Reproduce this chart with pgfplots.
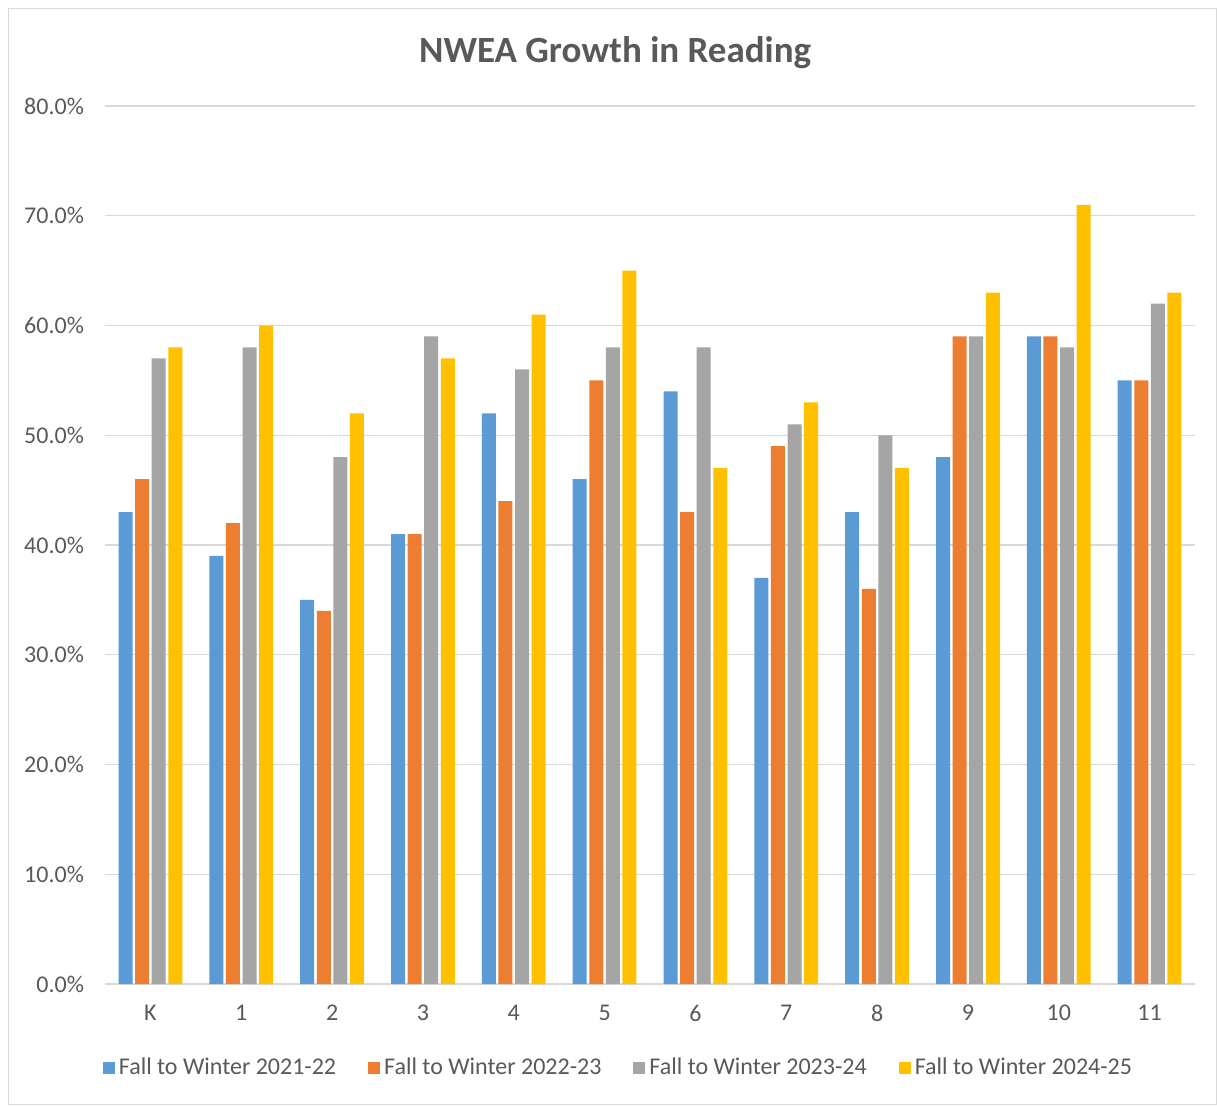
\documentclass[border=0pt]{standalone}
\usepackage{fontspec}
\setmainfont{Carlito}
\usepackage{pgfplots}
\pgfplotsset{compat=1.18}

\definecolor{sblue}{HTML}{5B9BD5}
\definecolor{sorange}{HTML}{ED7D31}
\definecolor{sgray}{HTML}{A5A5A5}
\definecolor{sgold}{HTML}{FFC000}
\definecolor{gridgray}{HTML}{D9D9D9}
\definecolor{txtgray}{HTML}{595959}

\begin{document}
\begin{tikzpicture}
  % whole canvas and chart frame
  \path (-52.5pt,-60.5pt) rectangle (556pt,492pt);
  \draw[color=gridgray] (-48.5pt,-60pt) rectangle (555.5pt,488pt);
  \begin{axis}[
      at={(0,0)}, anchor=south west,
      scale only axis,
      width=545pt, height=439pt,
      ybar=1.3pt, bar width=7pt,
      xmin=-0.5, xmax=11.5,
      ymin=0, ymax=80,
      xtick={0,...,11},
      xticklabels={K,1,2,3,4,5,6,7,8,9,10,11},
      ytick={0,10,...,80},
      yticklabels={0.0\%,10.0\%,20.0\%,30.0\%,40.0\%,50.0\%,60.0\%,70.0\%,80.0\%},
      axis x line*=bottom, axis y line*=left,
      x axis line style={color=gridgray, -},
      y axis line style={draw=none},
      major tick length=0pt,
      ymajorgrids, grid style={color=gridgray, line width=0.7pt},
      tick label style={color=txtgray, font=\fontsize{12}{14}\selectfont},
      yticklabel style={xshift=-7pt},
      xticklabel style={yshift=-7pt},
      title={NWEA Growth in Reading},
      title style={at={(0.468,1)}, anchor=base, yshift=16pt,
        font=\fontsize{18.5}{22}\selectfont\bfseries, color=txtgray},
      legend style={at={(0.472,0)}, anchor=center, yshift=-42pt,
        draw=none, legend columns=4,
        font=\fontsize{12}{14}\selectfont, text=txtgray,
        /tikz/every even column/.append style={column sep=14pt}},
      legend cell align=left,
      legend image code/.code={\fill[#1] (0pt,-3pt) rectangle (6pt,3pt);},
    ]
    \addplot[fill=sblue, draw=none] coordinates {
      (0,43) (1,39) (2,35) (3,41) (4,52) (5,46) (6,54) (7,37) (8,43) (9,48) (10,59) (11,55)};
    \addplot[fill=sorange, draw=none] coordinates {
      (0,46) (1,42) (2,34) (3,41) (4,44) (5,55) (6,43) (7,49) (8,36) (9,59) (10,59) (11,55)};
    \addplot[fill=sgray, draw=none] coordinates {
      (0,57) (1,58) (2,48) (3,59) (4,56) (5,58) (6,58) (7,51) (8,50) (9,59) (10,58) (11,62)};
    \addplot[fill=sgold, draw=none] coordinates {
      (0,58) (1,60) (2,52) (3,57) (4,61) (5,65) (6,47) (7,53) (8,47) (9,63) (10,71) (11,63)};
    \legend{Fall to Winter 2021-22, Fall to Winter 2022-23, Fall to Winter 2023-24, Fall to Winter 2024-25}
  \end{axis}
\end{tikzpicture}
\end{document}
